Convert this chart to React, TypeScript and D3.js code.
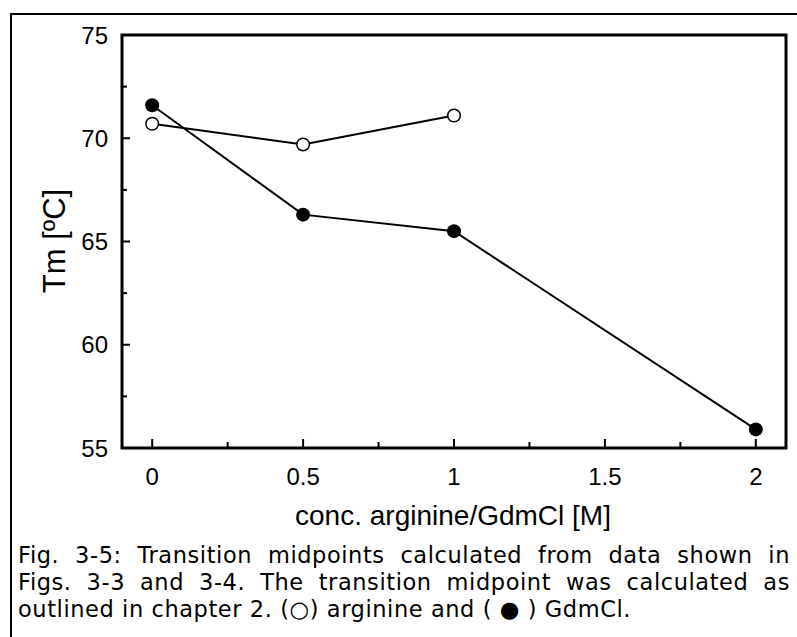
import React, { useMemo } from 'react';
import * as d3 from 'd3';

const concArginine = [0, 0.5, 1];
const tmArginine = [70.7, 69.7, 71.1];
const concGdmCl = [0, 0.5, 1, 2];
const tmGdmCl = [71.6, 66.3, 65.5, 55.9];

const xMajorTicks = [0, 0.5, 1, 1.5, 2];
const xTickLabels = ['0', '0.5', '1', '1.5', '2'];
const xMinorTicks = [0.25, 0.75, 1.25, 1.75];
const yMajorTicks = [55, 60, 65, 70, 75];
const yTickLabels = ['55', '60', '65', '70', '75'];
const yMinorTicks = [57.5, 62.5, 67.5, 72.5];

const xTitle = 'conc. arginine/GdmCl [M]';
const yTitle = 'Tm [ºC]';
const captionLines = [
  'Fig. 3-5: Transition midpoints calculated from data shown in',
  'Figs. 3-3 and 3-4. The transition midpoint was calculated as',
  'outlined in chapter 2. (○) arginine and ( ● ) GdmCl.',
];

const W = 797;
const H = 637;
const plot = { left: 122, right: 786, top: 35, bottom: 448 };
const tickFont = "'Liberation Sans', Arial, sans-serif";
const capFont = "'DejaVu Sans', Verdana, sans-serif";
const capSize = 22.5;
const capLeft = 18;
const capRight = 790;
const capLastRight = 631;
const capBaselines = [563, 590, 617];

export default function App() {
  const x = d3.scaleLinear().domain([-0.1, 2.1]).range([plot.left, plot.right]);
  const y = d3.scaleLinear().domain([55, 75]).range([plot.bottom, plot.top]);
  const line = d3
    .line<[number, number]>()
    .x((d) => x(d[0]))
    .y((d) => y(d[1]));
  const argPts: [number, number][] = concArginine.map((c, i) => [c, tmArginine[i]]);
  const gdmPts: [number, number][] = concGdmCl.map((c, i) => [c, tmGdmCl[i]]);

  const cap = useMemo(() => {
    const canvas = document.createElement('canvas');
    const ctx = canvas.getContext('2d')!;
    ctx.font = `${capSize}px ${capFont}`;
    const last = captionLines[captionLines.length - 1];
    const lastW = ctx.measureText(last).width;
    const ls = (capLastRight - capLeft - lastW) / last.length;
    const spacings = captionLines.map((l, i) => {
      if (i === captionLines.length - 1) return 0;
      const w = ctx.measureText(l).width + ls * l.length;
      const gaps = l.split(' ').length - 1;
      return (capRight - capLeft - w) / gaps;
    });
    return { ls, spacings };
  }, []);

  return (
    <svg
      width={W}
      height={H}
      style={{ position: 'absolute', left: 0, top: 0, background: '#fff' }}
    >
      <rect x={0} y={0} width={W} height={H} fill="#fff" />
      {/* outer box */}
      <rect x={11} y={14} width={W + 20} height={H + 40} fill="none" stroke="#000" strokeWidth={2} />

      {/* minor ticks */}
      {xMinorTicks.map((t) => (
        <line key={'xm' + t} x1={x(t)} x2={x(t)} y1={plot.bottom} y2={plot.bottom - 6} stroke="#000" strokeWidth={2} />
      ))}
      {xMajorTicks.map((t) => (
        <line key={'xM' + t} x1={x(t)} x2={x(t)} y1={plot.bottom} y2={plot.bottom - 9} stroke="#000" strokeWidth={2} />
      ))}
      {yMinorTicks.map((t) => (
        <line key={'ym' + t} x1={plot.left} x2={plot.left + 5} y1={y(t)} y2={y(t)} stroke="#000" strokeWidth={2} />
      ))}
      {yMajorTicks.map((t) => (
        <line key={'yM' + t} x1={plot.left} x2={plot.left + 8} y1={y(t)} y2={y(t)} stroke="#000" strokeWidth={2} />
      ))}

      {/* frame */}
      <rect
        x={plot.left}
        y={plot.top}
        width={plot.right - plot.left}
        height={plot.bottom - plot.top}
        fill="none"
        stroke="#000"
        strokeWidth={3}
      />

      {/* tick labels */}
      {xMajorTicks.map((t, i) => (
        <text key={'xl' + t} x={x(t)} y={485} textAnchor="middle" fontFamily={tickFont} fontSize={24}>
          {xTickLabels[i]}
        </text>
      ))}
      {yMajorTicks.map((t, i) => (
        <text key={'yl' + t} x={108} y={y(t) + 8.5} textAnchor="end" fontFamily={tickFont} fontSize={24}>
          {yTickLabels[i]}
        </text>
      ))}

      {/* axis titles */}
      <text x={453} y={525} textAnchor="middle" fontFamily={tickFont} fontSize={28}>
        {xTitle}
      </text>
      <text
        transform={`translate(65,241) rotate(-90)`}
        textAnchor="middle"
        fontFamily={tickFont}
        fontSize={31}
      >
        {yTitle}
      </text>

      {/* series */}
      <path d={line(argPts) || ''} fill="none" stroke="#000" strokeWidth={2} />
      <path d={line(gdmPts) || ''} fill="none" stroke="#000" strokeWidth={2} />
      {gdmPts.map((p, i) => (
        <circle key={'g' + i} cx={x(p[0])} cy={y(p[1])} r={7} fill="#000" />
      ))}
      {argPts.map((p, i) => (
        <circle key={'a' + i} cx={x(p[0])} cy={y(p[1])} r={6.3} fill="#fff" stroke="#000" strokeWidth={1.5} />
      ))}

      {/* caption */}
      {captionLines.map((l, i) => (
        <text
          key={'c' + i}
          x={capLeft}
          y={capBaselines[i]}
          fontFamily={capFont}
          fontSize={capSize}
          letterSpacing={cap.ls}
          wordSpacing={cap.spacings[i]}
          style={{ whiteSpace: 'pre' }}
        >
          {l}
        </text>
      ))}
    </svg>
  );
}
